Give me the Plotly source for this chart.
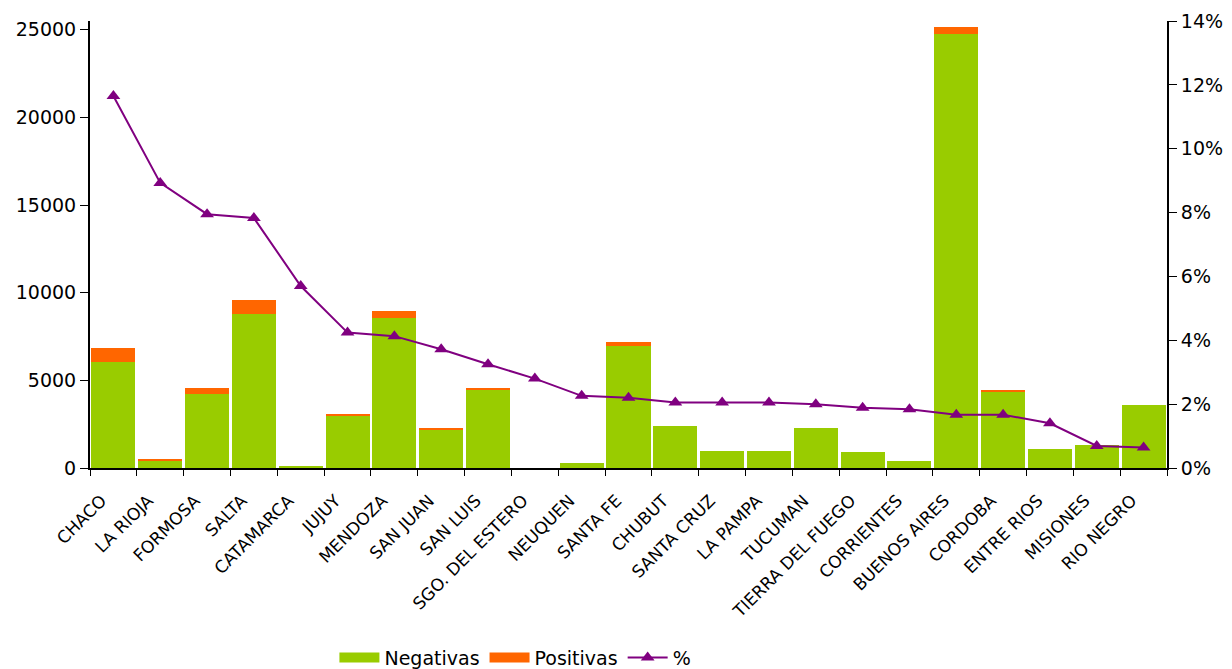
import plotly.graph_objects as go

provincias = ["CHACO", "LA RIOJA", "FORMOSA", "SALTA", "CATAMARCA", "JUJUY", "MENDOZA",
              "SAN JUAN", "SAN LUIS", "SGO. DEL ESTERO", "NEUQUEN", "SANTA FE", "CHUBUT",
              "SANTA CRUZ", "LA PAMPA", "TUCUMAN", "TIERRA DEL FUEGO", "CORRIENTES",
              "BUENOS AIRES", "CORDOBA", "ENTRE RIOS", "MISIONES", "RIO NEGRO"]
negativas = [6070, 400, 4240, 8790, 130, 2985, 8560, 2190, 4450, 0, 290, 6980, 2400,
             970, 970, 2285, 915, 400, 24770, 4355, 1085, 1315, 3600]
positivas = [780, 115, 330, 800, 0, 100, 400, 100, 110, 0, 0, 210, 0,
             0, 0, 0, 0, 0, 400, 100, 0, 0, 0]
porcentaje = [0.1165, 0.0893, 0.0795, 0.0783, 0.0570, 0.0424, 0.0413, 0.0372, 0.0325,
              0.0280, 0.0226, 0.0220, 0.0205, 0.0205, 0.0205, 0.0200, 0.0189, 0.0184,
              0.0167, 0.0167, 0.0140, 0.0069, 0.0064]

font = "DejaVu Sans, Verdana, sans-serif"
verde, naranja, violeta = "#99CC00", "#FF6600", "#800080"

fig = go.Figure()
fig.add_trace(go.Bar(x=provincias, y=negativas, name="Negativas", showlegend=False,
                     marker=dict(color=verde, line=dict(width=0))))
fig.add_trace(go.Bar(x=provincias, y=positivas, name="Positivas", showlegend=False,
                     marker=dict(color=naranja, line=dict(width=0))))
fig.add_trace(go.Scatter(x=provincias, y=porcentaje, name="%", yaxis="y2",
                         mode="lines+markers", showlegend=False,
                         line=dict(color=violeta, width=2),
                         marker=dict(symbol="triangle-up", size=12, color=violeta)))
# legend entries (wide rectangle keys like the original)
fig.add_trace(go.Scatter(x=[None], y=[None], name="Negativas", mode="lines",
                         line=dict(color=verde, width=16)))
fig.add_trace(go.Scatter(x=[None], y=[None], name="Positivas", mode="lines",
                         line=dict(color=naranja, width=16)))
fig.add_trace(go.Scatter(x=[None], y=[None], name="%", mode="lines+markers", yaxis="y2",
                         line=dict(color=violeta, width=2),
                         marker=dict(symbol="triangle-up", size=12, color=violeta)))

fig.update_layout(
    width=1224, height=661,
    paper_bgcolor="white", plot_bgcolor="white",
    barmode="stack", bargap=0.06,
    margin=dict(l=82, r=65, t=13, b=201, autoexpand=False),
    font=dict(family=font, size=15, color="#000000"),
    xaxis=dict(range=[-0.5, 22.5], tickangle=-45, tickson="boundaries", ticks="outside",
               ticklen=6, tickcolor="#000", showline=True, linecolor="#000", linewidth=2,
               showgrid=False, tickfont=dict(size=17), automargin=False,
               ticklabelshift=-12, ticklabelstandoff=14),
    yaxis=dict(range=[0, 25500], dtick=5000, tick0=0, tickformat="d", ticks="outside",
               ticklen=8, tickcolor="#000", showline=True, linecolor="#000", linewidth=2,
               showgrid=False, zeroline=False, tickfont=dict(size=19), automargin=False),
    yaxis2=dict(range=[0, 0.14], dtick=0.02, tick0=0, tickformat=".0%",
                overlaying="y", side="right", ticks="outside", ticklen=8,
                tickcolor="#000", showline=True, linecolor="#000", linewidth=2,
                showgrid=False, zeroline=False, tickfont=dict(size=19), automargin=False),
    legend=dict(orientation="h", x=0.395, xanchor="center", y=-0.424, yanchor="middle",
                font=dict(size=19), traceorder="normal", itemwidth=40,
                tracegroupgap=0),
    showlegend=True,
)

fig.write_html("out.html")
